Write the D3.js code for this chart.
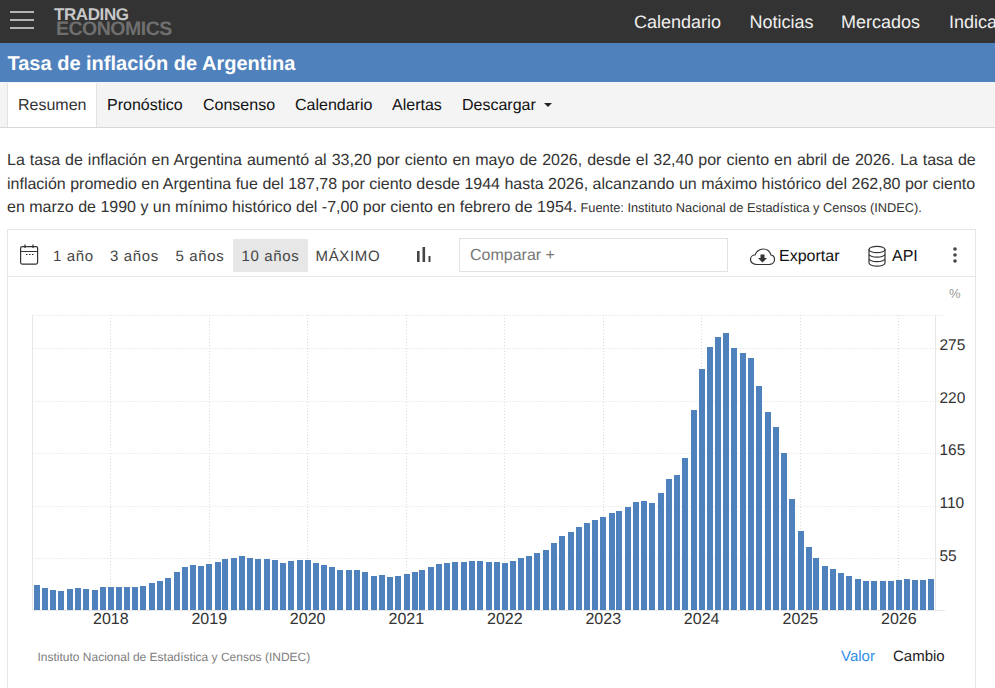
<!DOCTYPE html>
<html lang="es">
<head>
<meta charset="utf-8">
<title>Tasa de inflación de Argentina</title>
<script src="https://cdn.jsdelivr.net/npm/d3@7"></script>
<style>
  html, body { margin: 0; padding: 0; background: #fff; overflow: hidden; }
  svg { display: block; font-family: "Liberation Sans", Arial, sans-serif; }
  svg text { text-rendering: geometricPrecision; }
</style>
</head>
<body>
<svg id="page" width="995" height="688"></svg>
<script>
// Year-on-year inflation, monthly, April 2017 to May 2026 (percent)
const firstMonth = new Date(Date.UTC(2017, 3, 1));
const inflation = [
  27.2, 24.0, 22.0, 21.2, 23.0, 24.0, 23.2, 22.4, 25.0,
  25.0, 25.2, 25.4, 25.5, 26.3, 29.5, 31.2, 34.4, 40.5, 45.9, 48.5, 47.6,
  49.3, 51.3, 54.7, 55.8, 57.3, 55.8, 54.4, 54.5, 53.5, 50.5, 52.1, 53.8,
  52.9, 50.3, 48.4, 45.6, 43.4, 42.8, 42.4, 40.7, 36.6, 37.2, 35.8, 36.1,
  38.5, 40.7, 42.6, 46.3, 48.8, 50.2, 51.8, 51.4, 52.5, 52.1, 51.2, 50.9,
  50.7, 52.3, 55.1, 58.0, 60.7, 64.0, 71.0, 78.5, 83.0, 88.0, 92.4, 94.8,
  98.8, 102.5, 104.3, 108.8, 114.2, 115.4, 113.2, 123.6, 138.3, 142.6, 160.3, 210.6,
  253.5, 276.5, 287.0, 291.0, 275.5, 270.3, 265.0, 235.7, 208.5, 192.8, 165.5, 117.4,
  83.8, 67.0, 55.6, 47.3, 43.5, 39.4, 36.6, 33.6, 31.8, 31.3, 31.4, 31.5,
  32.4, 33.1, 32.4, 32.4, 33.2
];
const yearTicks = [2018, 2019, 2020, 2021, 2022, 2023, 2024, 2025, 2026];
const valueTicks = [55, 110, 165, 220, 275];
const months = inflation.map((_, i) => d3.utcMonth.offset(firstMonth, i));

const navLinks = [["Calendario", 634], ["Noticias", 749.5], ["Mercados", 841], ["Indicadores", 949]];
const tabs = [["Resumen", 18], ["Pronóstico", 107], ["Consenso", 203], ["Calendario", 295], ["Alertas", 392], ["Descargar", 462]];
const ranges = [["1 año", 53], ["3 años", 110], ["5 años", 175.5], ["10 años", 241.5], ["MÁXIMO", 315.5]];
const summary = [
  ["La tasa de inflación en Argentina aumentó al 33,20 por ciento en mayo de 2026, desde el 32,40 por ciento en abril de 2026. La tasa de", 0.55],
  ["inflación promedio en Argentina fue del 187,78 por ciento desde 1944 hasta 2026, alcanzando un máximo histórico del 262,80 por ciento", 0.02],
  ["en marzo de 1990 y un mínimo histórico del -7,00 por ciento en febrero de 1954.", 0]
];

const svg = d3.select("#page");

const rect = (x, y, w, h, fill, stroke) => svg.append("rect")
  .attr("x", x).attr("y", y).attr("width", w).attr("height", h)
  .attr("fill", fill).attr("stroke", stroke || "none");
const label = (s, x, y, size, fill, weight) => svg.append("text")
  .attr("x", x).attr("y", y).attr("font-size", size)
  .attr("fill", fill).attr("font-weight", weight || 400).text(s);

// Site header
rect(0, 0, 995, 43, "#333333");
[12, 20, 28].forEach(y => rect(10, y - 1, 24, 2, "#b4b4b4"));
label("TRADING", 54, 20, 17, "#c8c8c8", 700).attr("letter-spacing", -0.4);
label("ECONOMICS", 56, 35, 19.5, "#6f6f6f", 700).attr("letter-spacing", -0.5);
navLinks.forEach(([s, x]) => label(s, x, 28, 18, "#eeeeee"));

// Title band
rect(0, 43, 995, 39, "#4f81bd");
label("Tasa de inflación de Argentina", 7.5, 69.5, 20, "#ffffff", 700);

// Tab strip
rect(0, 82, 995, 45, "#f4f4f4");
rect(0, 127, 995, 1, "#d8d8d8");
rect(7, 83, 90, 44, "#ffffff");
rect(7, 83, 1, 44, "#e2e2e2");
rect(96, 83, 1, 44, "#e2e2e2");
tabs.forEach(([s, x], i) => label(s, x, 110, 16, i === 0 ? "#333333" : "#111111"));
svg.append("path").attr("d", "M544 103h8l-4 4z").attr("fill", "#222");

// Summary paragraph, justified line by line
summary.forEach(([s, gap], i) => label(s, 7, 165 + i * 23.5, 16, "#333333").attr("word-spacing", gap));
label("Fuente: Instituto Nacional de Estadística y Censos (INDEC).", 580.5, 212, 12.8, "#333333");

// Chart card and toolbar
rect(7.5, 229.5, 968, 470, "#ffffff", "#e6e6e6");
rect(8, 276, 967, 1, "#e6e6e6");
rect(233, 239, 75, 33, "#e7e7e7");
ranges.forEach(([s, x]) => label(s, x, 261, 15, "#444444").attr("letter-spacing", 0.65));
rect(459.5, 238.5, 268, 33, "#ffffff", "#e2e2e2");
label("Comparar +", 470, 260, 16, "#777777");
label("Exportar", 779, 261, 16, "#111111");
label("API", 892, 261, 16, "#111111");
label("%", 949, 298, 13, "#999999");

// Calendar icon
const icons = svg.append("g").attr("fill", "none").attr("stroke", "#333").attr("stroke-width", 1.2);
icons.append("rect").attr("x", 20.6).attr("y", 246.6).attr("width", 17).attr("height", 17.5).attr("rx", 1.5);
icons.append("path").attr("d", "M21 251.5h17M25 244.5v3.5M33 244.5v3.5");
icons.append("path").attr("d", "M26 254.5h1.5M29 254.5h1.5M32 254.5h1.5");
// Chart-type icon
rect(417, 251, 2.6, 11, "#444");
rect(422.5, 247, 2.6, 15, "#444");
rect(428.5, 256, 2, 6, "#444");
// Cloud download icon
icons.append("path").attr("d", "M757 264.5c-4 0-6.5-2.5-6.5-5 0-3 2.5-4.5 4.5-4.5 1-3.5 4.5-6 8-6 4 0 7 2.5 8 6 3 .5 3.5 2.5 3.5 4.5 0 3-2.5 5-5.5 5z");
svg.append("path").attr("d", "M760.5 254.5h4v3.5h2.5l-4.5 4.5-4.5-4.5h2.5z").attr("fill", "#333");
// Database icon
icons.append("ellipse").attr("cx", 877).attr("cy", 249.5).attr("rx", 8).attr("ry", 3.2);
icons.append("path").attr("d", "M869 249.5v13.5c0 1.8 3.6 3.2 8 3.2s8-1.4 8-3.2v-13.5M869 254c0 1.8 3.6 3.2 8 3.2s8-1.4 8-3.2M869 258.5c0 1.8 3.6 3.2 8 3.2s8-1.4 8-3.2");
// Overflow menu dots
[249, 255, 261].forEach(y => svg.append("circle").attr("cx", 955).attr("cy", y).attr("r", 1.8).attr("fill", "#444"));

// Scales for the plot
const x = d3.scaleUtc()
  .domain([new Date(Date.UTC(2018, 0, 1)), new Date(Date.UTC(2026, 0, 1))])
  .range([110.3, 898.3]);
const y = d3.scaleLinear().domain([1, 310]).range([610, 315]);

const plotLeft = 32.5, plotRight = 935.5, gridRight = 945;
const plot = svg.append("g");

// Dotted grid
plot.selectAll(".hgrid").data([...valueTicks, 310]).join("line")
  .attr("class", "hgrid")
  .attr("x1", plotLeft).attr("x2", gridRight)
  .attr("y1", d => Math.round(y(d)) + 0.5).attr("y2", d => Math.round(y(d)) + 0.5)
  .attr("stroke", "#dcdcdc").attr("stroke-dasharray", "1,2");
plot.selectAll(".vgrid").data(yearTicks).join("line")
  .attr("class", "vgrid")
  .attr("x1", d => Math.round(x(new Date(Date.UTC(d, 0, 1)))) + 0.5)
  .attr("x2", d => Math.round(x(new Date(Date.UTC(d, 0, 1)))) + 0.5)
  .attr("y1", 315).attr("y2", 610)
  .attr("stroke", "#dcdcdc").attr("stroke-dasharray", "1,2");

// Frame lines
plot.append("line").attr("x1", plotLeft).attr("x2", plotLeft).attr("y1", 315).attr("y2", 610).attr("stroke", "#e6e6e6");
plot.append("line").attr("x1", plotRight).attr("x2", plotRight).attr("y1", 315).attr("y2", 610).attr("stroke", "#e6e6e6");
plot.append("line").attr("x1", plotLeft).attr("x2", gridRight).attr("y1", 610.5).attr("y2", 610.5).attr("stroke", "#e6e6e6");

// Monthly bars
plot.selectAll(".bar").data(inflation).join("rect")
  .attr("class", "bar")
  .attr("x", (d, i) => Math.round(x(months[i]) - 2.3))
  .attr("width", 6)
  .attr("y", d => Math.round(y(d)))
  .attr("height", d => y.range()[0] - Math.round(y(d)))
  .attr("fill", "#4f81bd");

// Axes
const xAxis = svg.append("g").attr("transform", "translate(0,610)")
  .call(d3.axisBottom(x)
    .tickValues(yearTicks.map(t => new Date(Date.UTC(t, 0, 1))))
    .tickFormat(d3.utcFormat("%Y")).tickSize(0).tickPadding(3));
const yAxis = svg.append("g").attr("transform", "translate(939.5,0)")
  .call(d3.axisRight(y).tickValues(valueTicks).tickSize(0).tickPadding(0));
[xAxis, yAxis].forEach(a => {
  a.select(".domain").remove();
  a.attr("font-family", null);
  a.selectAll("text").attr("font-size", 16).attr("fill", "#333333");
});
yAxis.selectAll("text").attr("font-size", 15.5).attr("dy", "0.1em");

// Footer
label("Instituto Nacional de Estadística y Censos (INDEC)", 37.5, 661, 12, "#808080");
label("Valor", 841, 661, 15, "#2f8fe8");
label("Cambio", 893, 661, 15, "#222222");
</script>
</body>
</html>
